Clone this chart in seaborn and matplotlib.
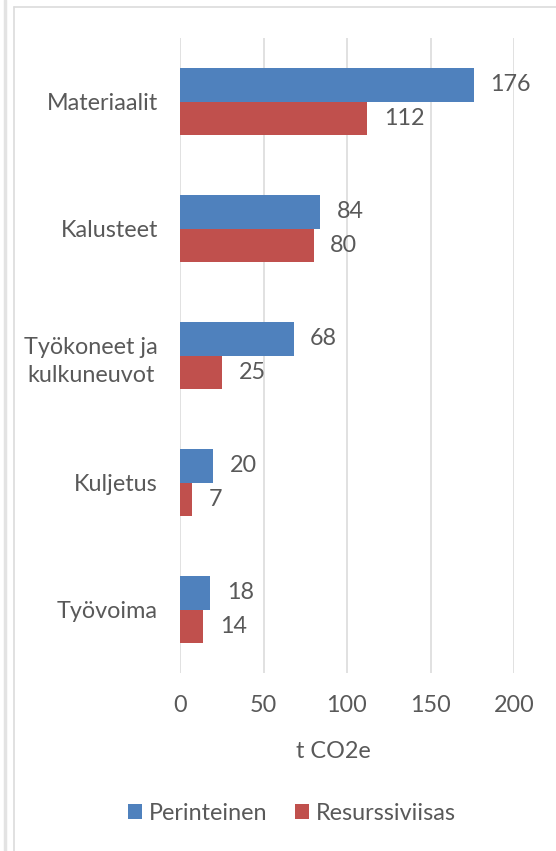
import matplotlib
matplotlib.use("Agg")
import matplotlib.pyplot as plt
import seaborn as sns
import pandas as pd
from matplotlib.lines import Line2D
from matplotlib.patches import Patch

categories = ["Materiaalit", "Kalusteet", "Työkoneet ja\nkulkuneuvot", "Kuljetus", "Työvoima"]
series_names = ["Perinteinen", "Resurssiviisas"]
perinteinen = [176, 84, 68, 20, 18]
resurssiviisas = [112, 80, 25, 7, 14]
x_ticks = [0, 50, 100, 150, 200]
x_label = "t CO2e"
colors = ["#4F81BD", "#C0504D"]

df = pd.DataFrame({
    "cat": categories * 2,
    "val": perinteinen + resurssiviisas,
    "series": [series_names[0]] * len(categories) + [series_names[1]] * len(categories),
})

sns.set_theme(style="white")
plt.rcParams["font.family"] = ["Lato", "DejaVu Sans"]
txt = "#595959"
fs = 16.8

fig = plt.figure(figsize=(5.56, 8.51), dpi=100)
W, H = 556, 851
ax = fig.add_axes([180 / W, 1 - 673 / H, (514 - 180) / W, (673 - 38) / H])

sns.barplot(data=df, y="cat", x="val", hue="series", orient="h",
            palette=colors, width=0.52, gap=0, saturation=1,
            ax=ax, legend=False, edgecolor="none", linewidth=0)

ax.set_xlim(0, 200)
ax.set_ylim(len(categories) - 0.5, -0.5)
ax.set_xticks(x_ticks)
ax.set_xticklabels([str(t) for t in x_ticks])
ax.grid(axis="x", color="#D9D9D9", linewidth=1.1)
ax.grid(axis="y", visible=False)
ax.set_axisbelow(True)
for s in ax.spines.values():
    s.set_visible(False)
ax.tick_params(axis="x", length=0, pad=16, labelsize=fs, labelcolor=txt)
ax.tick_params(axis="y", length=0, pad=16, labelsize=fs, labelcolor=txt)
for lab in ax.get_yticklabels():
    lab.set_horizontalalignment("right")
    lab.set_multialignment("center")
    lab.set_linespacing(1.45)
ax.set_ylabel("")
ax.set_xlabel(x_label, fontsize=fs, color=txt)
ax.xaxis.set_label_coords((333 - 180) / (514 - 180), -(752 - 673) / (673 - 38))
ax.xaxis.label.set_verticalalignment("center")

for cont in ax.containers:
    ax.bar_label(cont, labels=[f"{v:.0f}" for v in cont.datavalues],
                 padding=12, fontsize=fs, color=txt)

handles = [Patch(facecolor=c, edgecolor="none") for c in colors]
fig.legend(handles, series_names, loc="center", bbox_to_anchor=(292 / W, 1 - 813 / H),
           ncol=2, frameon=False, fontsize=fs, labelcolor=txt,
           handlelength=0.6, handleheight=0.6, handletextpad=0.3, columnspacing=1.2)

# outer frame lines
fig.add_artist(Line2D([4.5 / W, 4.5 / W], [0, 1], color="#E3E3E3", linewidth=2.5))
fig.add_artist(Line2D([13.5 / W, 13.5 / W], [0, 1 - 6.5 / H], color="#DCDCDC", linewidth=1.2))
fig.add_artist(Line2D([13.5 / W, 1], [1 - 6.5 / H, 1 - 6.5 / H], color="#DCDCDC", linewidth=1.2))

fig.savefig("out.png", dpi=100, facecolor="white")
